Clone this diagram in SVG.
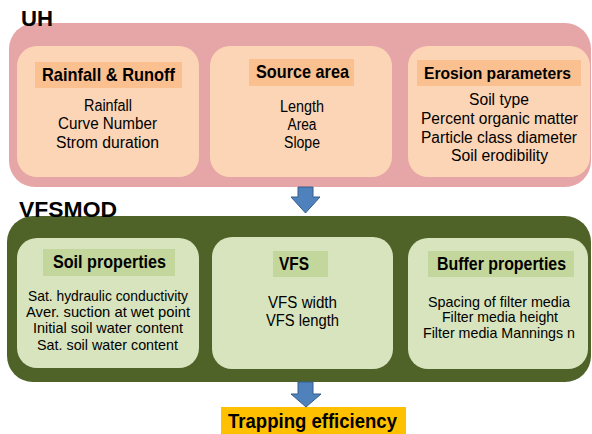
<svg xmlns="http://www.w3.org/2000/svg" width="592" height="434" viewBox="0 0 592 434">
<style>
text{font-family:"Liberation Sans",Arial,sans-serif;fill:#000;text-anchor:middle}
.title{font-size:22px;font-weight:bold;text-anchor:start}
.hdr{font-size:19px;font-weight:bold}
.body{font-size:16px}
.small{font-size:14.5px}
.uh-outer{fill:#E6A5A7}
.uh-box{fill:#FBD5B5}
.uh-hdr{fill:#FAC090}
.vf-outer{fill:#4F6228}
.vf-box{fill:#D7E4BD}
.vf-hdr{fill:#C3D69B}
.arrow{fill:#4F81BD;stroke:#385D8A;stroke-width:1}
</style>
<rect width="592" height="434" fill="#fff"/>

<g id="uh">
  <rect class="uh-outer" x="9" y="23" width="582" height="164" rx="26"/>
  <text class="title" x="21" y="26" textLength="32" lengthAdjust="spacingAndGlyphs">UH</text>
</g>
<g id="rainfall-runoff">
  <rect class="uh-box" x="17" y="46" width="182" height="131" rx="20"/>
  <rect class="uh-hdr" x="35" y="62" width="147" height="26"/>
  <text class="hdr" x="108.5" y="81" textLength="133" lengthAdjust="spacingAndGlyphs">Rainfall &amp; Runoff</text>
  <text class="body" x="108" y="111" textLength="48" lengthAdjust="spacingAndGlyphs">Rainfall</text>
  <text class="body" x="107.5" y="129" textLength="99" lengthAdjust="spacingAndGlyphs">Curve Number</text>
  <text class="body" x="107.5" y="148" textLength="103" lengthAdjust="spacingAndGlyphs">Strom duration</text>
</g>
<g id="source-area">
  <rect class="uh-box" x="210" y="46" width="182" height="131" rx="20"/>
  <rect class="uh-hdr" x="249" y="59" width="105" height="27"/>
  <text class="hdr" x="302.5" y="78" textLength="93" lengthAdjust="spacingAndGlyphs">Source area</text>
  <text class="body" x="302" y="112" textLength="44" lengthAdjust="spacingAndGlyphs">Length</text>
  <text class="body" x="302" y="130" textLength="29" lengthAdjust="spacingAndGlyphs">Area</text>
  <text class="body" x="302" y="148" textLength="36" lengthAdjust="spacingAndGlyphs">Slope</text>
</g>
<g id="erosion-parameters">
  <rect class="uh-box" x="408" y="46" width="182" height="131" rx="20"/>
  <rect class="uh-hdr" x="417" y="60" width="164" height="26"/>
  <text class="hdr" x="497.5" y="79" style="font-size:17px" textLength="147" lengthAdjust="spacingAndGlyphs">Erosion parameters</text>
  <text class="body" x="499" y="105" textLength="60" lengthAdjust="spacingAndGlyphs">Soil type</text>
  <text class="body" x="499.5" y="124" textLength="157" lengthAdjust="spacingAndGlyphs">Percent organic matter</text>
  <text class="body" x="499" y="143" textLength="156" lengthAdjust="spacingAndGlyphs">Particle class diameter</text>
  <text class="body" x="499.5" y="161" textLength="97" lengthAdjust="spacingAndGlyphs">Soil erodibility</text>
</g>

<g id="vfsmod">
  <rect class="vf-outer" x="7" y="216" width="584" height="166" rx="26"/>
  <text class="title" x="19" y="217" textLength="98" lengthAdjust="spacingAndGlyphs">VFSMOD</text>
</g>
<g id="soil-properties">
  <rect class="vf-box" x="17" y="238" width="182" height="130" rx="20"/>
  <rect class="vf-hdr" x="43" y="249" width="132" height="27"/>
  <text class="hdr" x="109.5" y="268" textLength="113" lengthAdjust="spacingAndGlyphs">Soil properties</text>
  <text class="small" x="108" y="301" textLength="160" lengthAdjust="spacingAndGlyphs">Sat. hydraulic conductivity</text>
  <text class="small" x="108" y="317" textLength="164" lengthAdjust="spacingAndGlyphs">Aver. suction at wet point</text>
  <text class="small" x="108" y="333" textLength="150" lengthAdjust="spacingAndGlyphs">Initial soil water content</text>
  <text class="small" x="107.5" y="350" textLength="141" lengthAdjust="spacingAndGlyphs">Sat. soil water content</text>
</g>
<g id="vfs">
  <rect class="vf-box" x="212" y="237" width="181" height="132" rx="20"/>
  <rect class="vf-hdr" x="273" y="251" width="55" height="26"/>
  <text class="hdr" x="294" y="270" textLength="30" lengthAdjust="spacingAndGlyphs">VFS</text>
  <text class="body" x="302.5" y="308" textLength="69" lengthAdjust="spacingAndGlyphs">VFS width</text>
  <text class="body" x="302.5" y="326" textLength="73" lengthAdjust="spacingAndGlyphs">VFS length</text>
</g>
<g id="buffer-properties">
  <rect class="vf-box" x="408" y="238" width="180" height="131" rx="20"/>
  <rect class="vf-hdr" x="428" y="251" width="146" height="26"/>
  <text class="hdr" x="501.5" y="270" textLength="129" lengthAdjust="spacingAndGlyphs">Buffer properties</text>
  <text class="small" x="499" y="307" textLength="142" lengthAdjust="spacingAndGlyphs">Spacing of filter media</text>
  <text class="small" x="500" y="322" textLength="116" lengthAdjust="spacingAndGlyphs">Filter media height</text>
  <text class="small" x="499" y="338" textLength="152" lengthAdjust="spacingAndGlyphs">Filter media Mannings n</text>
</g>

<g id="trapping-efficiency">
  <rect x="221" y="407" width="185" height="27" fill="#FFC000"/>
  <text x="312.5" y="428" style="font-size:21px;font-weight:bold" textLength="169" lengthAdjust="spacingAndGlyphs">Trapping efficiency</text>
</g>

<g id="connectors">
  <polygon class="arrow" points="298,187 313,187 313,197 320,197 305.5,213 291,197 298,197"/>
  <polygon class="arrow" points="298,382 313,382 313,394 321,394 306,407 291,394 298,394"/>
</g>
</svg>
